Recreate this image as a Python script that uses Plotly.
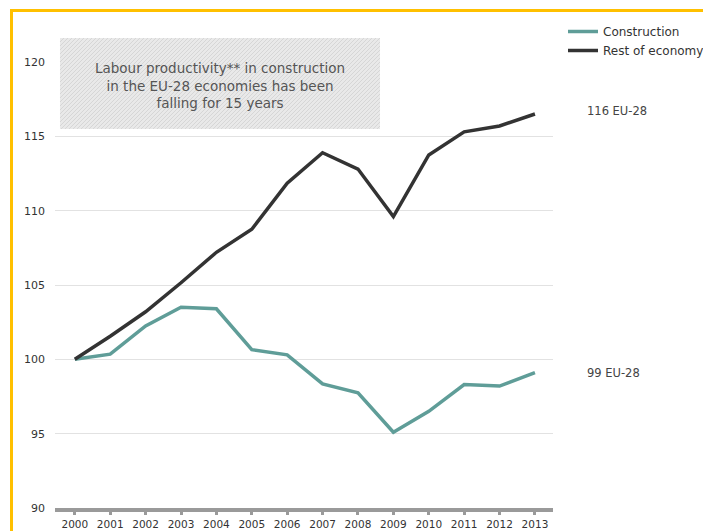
import plotly.graph_objects as go

years = [2000, 2001, 2002, 2003, 2004, 2005, 2006, 2007, 2008, 2009, 2010, 2011, 2012, 2013]
construction = [100.0, 100.35, 102.25, 103.5, 103.4, 100.65, 100.3, 98.35, 97.75, 95.1, 96.5, 98.3, 98.2, 99.1]
rest_of_economy = [100.0, 101.55, 103.2, 105.15, 107.2, 108.75, 111.85, 113.9, 112.8, 109.6, 113.75, 115.3, 115.7, 116.5]
y_ticks = [90, 95, 100, 105, 110, 115, 120]
series_names = ["Construction", "Rest of economy"]
end_labels = ["99 EU-28", "116 EU-28"]
note_text = "Labour productivity** in construction<br>in the EU-28 economies has been<br>falling for 15 years"

TEAL = "#5f9d98"
DARK = "#333333"
FONT = "DejaVu Sans"

W, H = 703, 531
ML, MR, MT, MB = 55, 150, 62, 23
PW = W - ML - MR
PH = H - MT - MB


def px(xp):
    return (xp - ML) / PW


def py(yp):
    return (H - MB - yp) / PH


fig = go.Figure()
fig.add_trace(go.Scatter(x=years, y=construction, mode="lines", name=series_names[0],
                         line=dict(color=TEAL, width=3.5)))
fig.add_trace(go.Scatter(x=years, y=rest_of_economy, mode="lines", name=series_names[1],
                         line=dict(color=DARK, width=3.5)))

fig.update_layout(
    width=W, height=H,
    margin=dict(l=ML, r=MR, t=MT, b=MB, autoexpand=False),
    paper_bgcolor="white", plot_bgcolor="white",
    font=dict(family=FONT, color="#333333", size=12),
    showlegend=True,
    legend=dict(x=px(563), y=py(17), xanchor="left", yanchor="top", xref="paper", yref="paper",
                font=dict(size=12, color="#333333", family=FONT),
                bgcolor="rgba(0,0,0,0)", tracegroupgap=0, itemwidth=30),
    xaxis=dict(range=[1999.44, 2013.51], tickmode="array", tickvals=years,
               ticktext=[str(y) for y in years], showgrid=False, zeroline=False,
               showline=True, linecolor="#9a9a9a", linewidth=4, automargin=False,
               ticks="outside", ticklen=3, tickwidth=3, tickcolor="#9a9a9a",
               tickfont=dict(size=10.5, color="#333333", family=FONT)),
    yaxis=dict(range=[90, 120], tickmode="array", tickvals=y_ticks, showgrid=True,
               gridcolor="#e2e2e2", gridwidth=1, zeroline=False, showline=False,
               automargin=False, ticks="", ticklabelstandoff=9,
               tickfont=dict(size=11, color="#333333", family=FONT)),
)

# note box (hatched)
bx0, bx1, by0, by1 = 60, 380, 38, 129
fig.add_shape(type="rect", xref="paper", yref="paper", x0=px(bx0), x1=px(bx1), y0=py(by1), y1=py(by0),
              fillcolor="#e9e9e9", line=dict(width=0), layer="above")
bh = by1 - by0
segs = []
s = bx0 - bh
while s < bx1:
    xa, ya = s, by1
    xb, yb = s + bh, by0
    if xa < bx0:
        ya = by1 - (bx0 - xa)
        xa = bx0
    if xb > bx1:
        yb = by0 + (xb - bx1)
        xb = bx1
    if xb > xa:
        segs.append(f"M {px(xa):.5f},{py(ya):.5f} L {px(xb):.5f},{py(yb):.5f}")
    s += 4
fig.add_shape(type="path", xref="paper", yref="paper", path=" ".join(segs),
              line=dict(color="#d6d6d6", width=1), layer="above")
fig.add_annotation(xref="paper", yref="paper", x=px(220), y=py(85), xanchor="center", yanchor="middle",
                   text=note_text, showarrow=False,
                   font=dict(size=13.5, color="#555555", family=FONT), align="center")

# end labels
fig.add_annotation(xref="paper", yref="y", x=px(585), y=construction[-1], xanchor="left", yanchor="middle",
                   text=end_labels[0], showarrow=False, font=dict(size=11.5, color="#444444", family=FONT))
fig.add_annotation(xref="paper", yref="y", x=px(585), y=rest_of_economy[-1], yshift=3, xanchor="left",
                   yanchor="middle", text=end_labels[1], showarrow=False,
                   font=dict(size=11.5, color="#444444", family=FONT))

# yellow frame
fig.add_shape(type="path", xref="paper", yref="paper",
              path=f"M {px(11.5)},{py(560)} L {px(11.5)},{py(10.5)} L {px(760)},{py(10.5)}",
              line=dict(color="#FFC000", width=3))

fig.write_html("out.html")
